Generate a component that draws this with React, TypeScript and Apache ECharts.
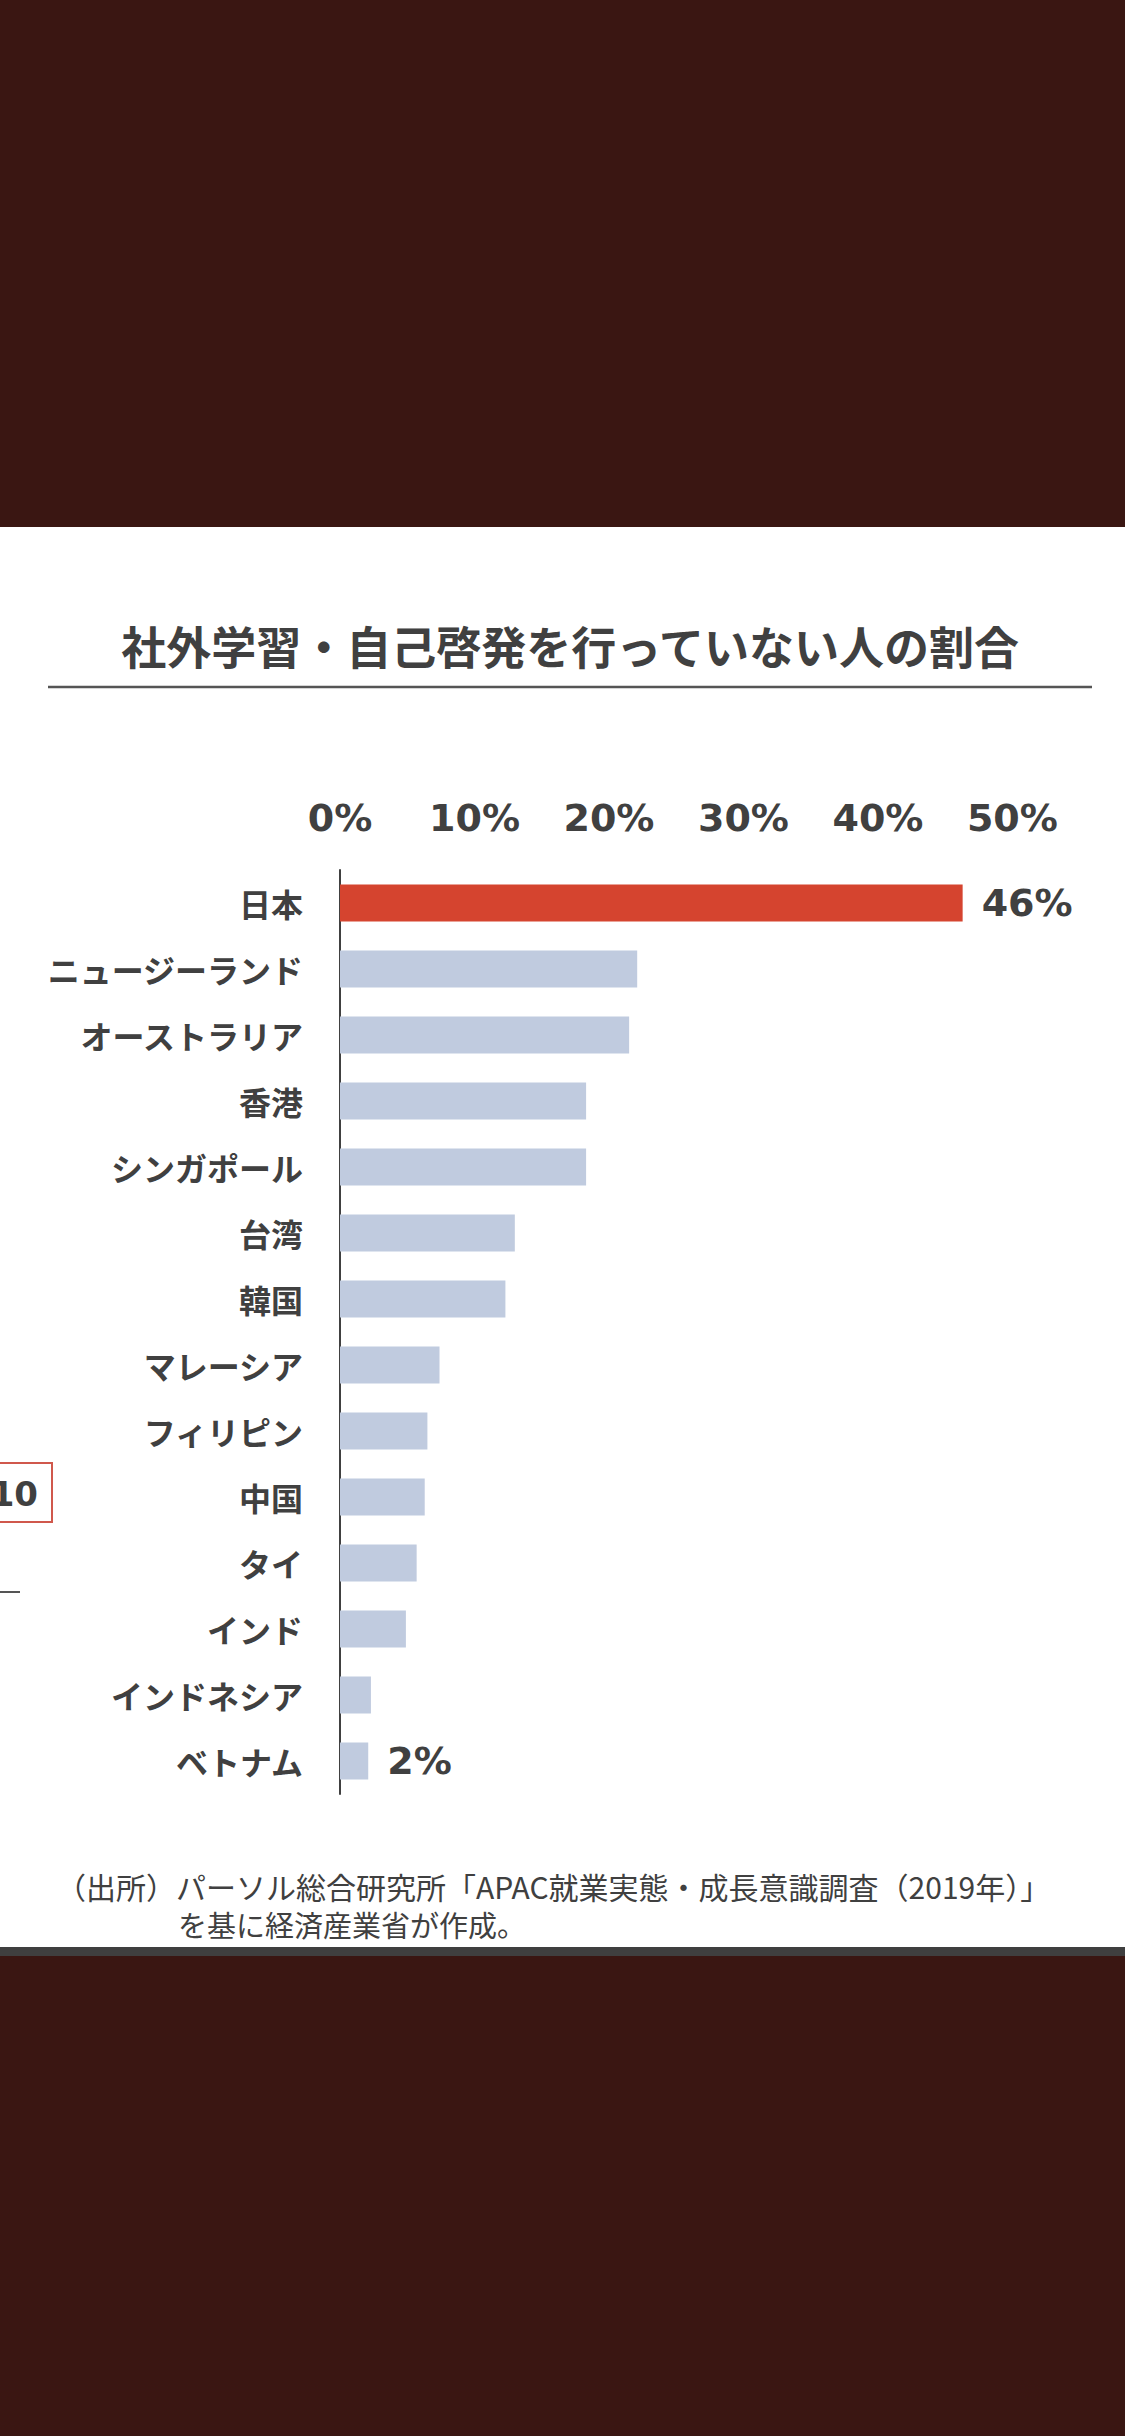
import { useEffect, useRef } from 'react'
import * as echarts from 'echarts'

// 社外学習・自己啓発を行っていない人の割合（%）
const countries = [
  '日本',
  'ニュージーランド',
  'オーストラリア',
  '香港',
  'シンガポール',
  '台湾',
  '韓国',
  'マレーシア',
  'フィリピン',
  '中国',
  'タイ',
  'インド',
  'インドネシア',
  'ベトナム',
]
const shares = [46.3, 22.1, 21.5, 18.3, 18.3, 13.0, 12.3, 7.4, 6.5, 6.3, 5.7, 4.9, 2.3, 2.1]
// 値ラベルを出す棒（先頭と末尾）
const labelled = ['日本', 'ベトナム']
const highlight = '日本'

const titleText = '社外学習・自己啓発を行っていない人の割合'
const sourceLines = [
  '（出所）パーソル総合研究所「APAC就業実態・成長意識調査（2019年）」',
  'を基に経済産業省が作成。',
]

const TEXT = '#404040'
const RED = '#d5442f'
const BLUE = '#c0cbdf'
const JP_FONT = '"Noto Sans CJK JP", "Noto Sans", sans-serif'
const NUM_FONT = '"DejaVu Sans", Verdana, sans-serif'

function App() {
  const chartRef = useRef<HTMLDivElement>(null)

  useEffect(() => {
    if (!chartRef.current) return
    document.body.style.margin = '0'
    const chart = echarts.init(chartRef.current, undefined, { renderer: 'svg' })

    const option: echarts.EChartsOption = {
      animation: false,
      backgroundColor: '#3a1612',
      graphic: [
        // 白いスライド部分
        { type: 'rect', z: -100, shape: { x: 0, y: 527, width: 1125, height: 1420 }, style: { fill: '#ffffff' } },
        { type: 'rect', z: -100, shape: { x: 0, y: 1947, width: 1125, height: 9 }, style: { fill: '#3f3f3f' } },
        {
          type: 'text',
          x: 570,
          y: 645,
          style: {
            text: titleText,
            fill: TEXT,
            font: `bold 45px ${JP_FONT}`,
            textAlign: 'center',
            textVerticalAlign: 'middle',
          },
        },
        {
          type: 'line',
          shape: { x1: 48, y1: 687, x2: 1092, y2: 687 },
          style: { stroke: '#555555', lineWidth: 2.5 },
        },
        {
          type: 'text',
          x: 56,
          y: 1886,
          style: {
            text: sourceLines[0],
            fill: TEXT,
            font: `30px ${JP_FONT}`,
            lineHeight: 30,
            textAlign: 'left',
            textVerticalAlign: 'middle',
          },
        },
        {
          type: 'text',
          x: 178,
          y: 1924,
          style: {
            text: sourceLines[1],
            fill: TEXT,
            font: `29px ${JP_FONT}`,
            lineHeight: 29,
            textAlign: 'left',
            textVerticalAlign: 'middle',
          },
        },
        // 左端に見切れている隣のスライドの要素
        {
          type: 'rect',
          shape: { x: -20, y: 1463, width: 72, height: 59 },
          style: { fill: 'none', stroke: '#d0584c', lineWidth: 2 },
        },
        {
          type: 'text',
          x: 38,
          y: 1494,
          style: {
            text: '10',
            fill: TEXT,
            font: `bold 34px ${NUM_FONT}`,
            textAlign: 'right',
            textVerticalAlign: 'middle',
          },
        },
        {
          type: 'line',
          shape: { x1: 0, y1: 1592, x2: 20, y2: 1592 },
          style: { stroke: '#555555', lineWidth: 2 },
        },
      ],
      grid: {
        left: 340,
        top: 870,
        width: 672.4,
        height: 924,
      },
      xAxis: {
        type: 'value',
        position: 'top',
        min: 0,
        max: 50,
        interval: 10,
        axisLine: { show: false },
        axisTick: { show: false },
        splitLine: { show: false },
        axisLabel: {
          formatter: '{value}%',
          color: TEXT,
          fontFamily: NUM_FONT,
          fontWeight: 'bold',
          fontSize: 38,
          margin: 33,
        },
      },
      yAxis: {
        type: 'category',
        inverse: true,
        data: countries,
        axisLine: { show: true, lineStyle: { color: TEXT, width: 2 } },
        axisTick: { show: false },
        axisLabel: {
          color: TEXT,
          fontFamily: JP_FONT,
          fontWeight: 'bold',
          fontSize: 32,
          margin: 37,
        },
      },
      series: [
        {
          type: 'bar',
          barWidth: 37,
          data: shares.map((v, i) => ({
            value: v,
            itemStyle: { color: countries[i] === highlight ? RED : BLUE },
            label: { show: labelled.includes(countries[i]) },
          })),
          label: {
            position: 'right',
            distance: 19,
            color: TEXT,
            fontFamily: NUM_FONT,
            fontWeight: 'bold',
            fontSize: 38,
            formatter: (p: any) => `${Math.round(p.value)}%`,
          },
        },
      ],
    }

    chart.setOption(option)

    return () => {
      chart.dispose()
    }
  }, [])

  return (
    <div
      ref={chartRef}
      style={{ width: 1125, height: 2436, position: 'absolute', left: 0, top: 0 }}
    />
  )
}

export default App
